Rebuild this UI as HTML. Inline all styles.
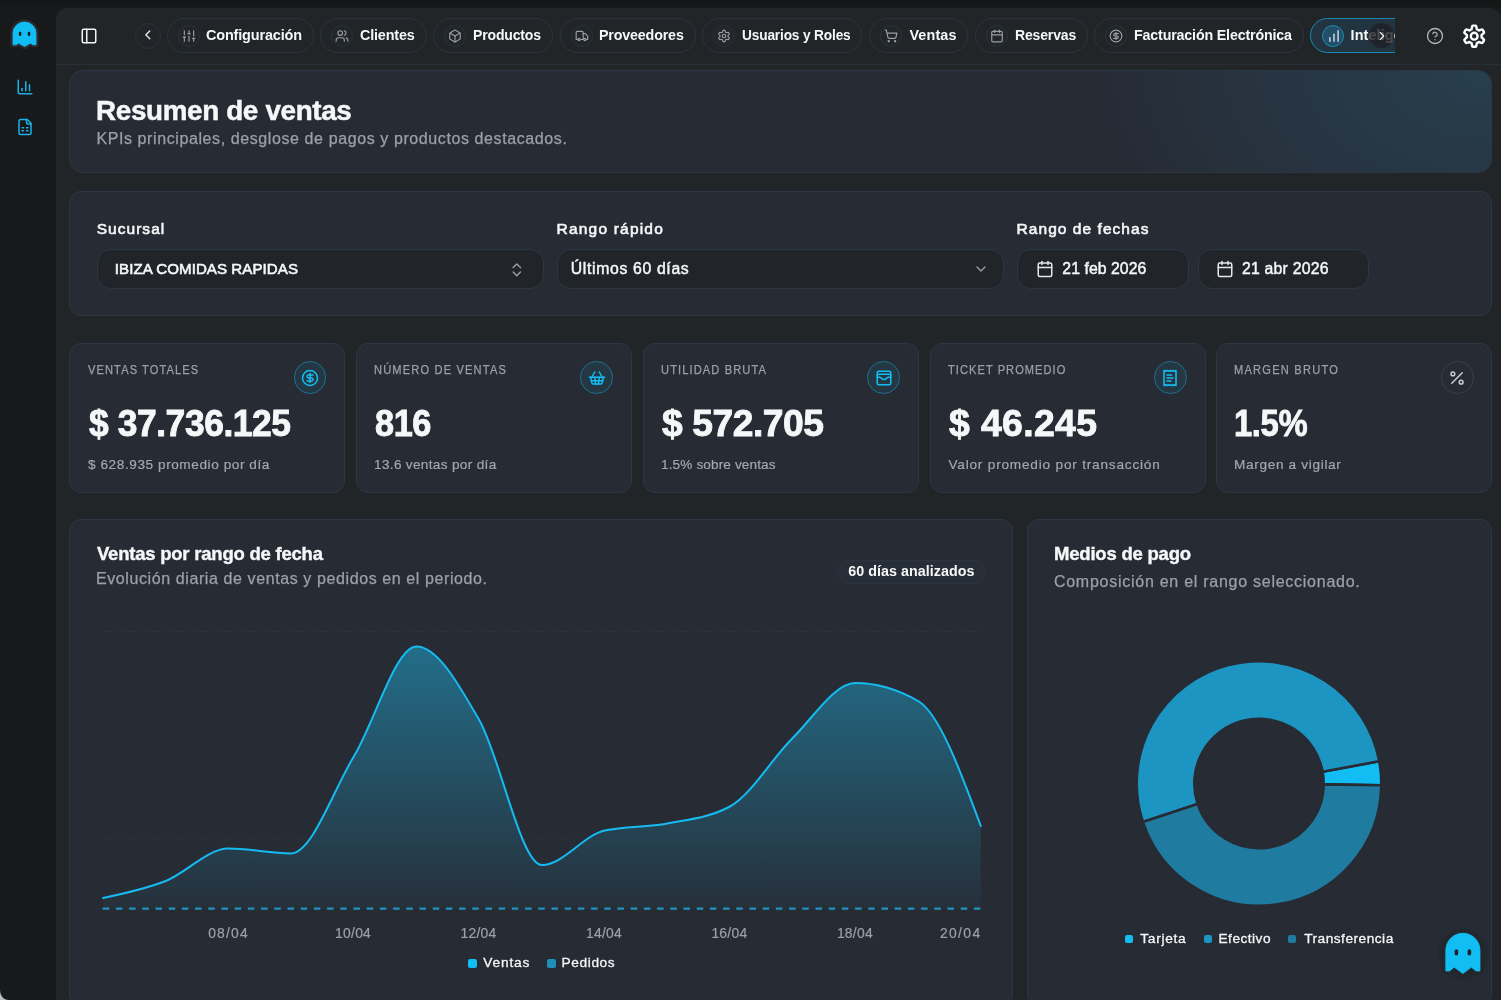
<!DOCTYPE html>
<html lang="es">
<head>
<meta charset="utf-8">
<title>Resumen de ventas</title>
<style>
*{box-sizing:border-box;margin:0;padding:0}
html,body{width:1501px;height:1000px;overflow:hidden;background:#18191b;font-family:"Liberation Sans",sans-serif}
#app{position:relative;width:1501px;height:1000px;overflow:hidden;background:#18191b}
.abs,.t,.card,.pill,.ic,.sel{position:absolute}
.t{white-space:pre;line-height:1;display:block}
#topfade{left:0;top:0;width:1501px;height:8px;background:linear-gradient(#151617,#18191b)}
#main{left:56px;top:8px;width:1445px;height:992px;background:#212528;border-radius:11px 11px 0 0}
#hline{left:56px;top:64px;width:1445px;height:1px;background:#2a2e37}
.card{background:#262b34;border:1px solid #2b3843;border-radius:12px}
#hero{left:69px;top:70px;width:1423px;height:103px;border-radius:14px;background:radial-gradient(ellipse 400px 260px at 100% 0%,#273f4d 0%,#273644 45%,#262b34 100%) #262b34;}
#filters{left:69px;top:191px;width:1423px;height:125px}
.kpi{top:343px;width:276px;height:150px}
#chart{left:69px;top:519px;width:944px;height:486.5px}
#pay{left:1027px;top:519px;width:465px;height:486.5px}
.pill{top:18px;height:35px;border:1px solid #2a333e;border-radius:18px;background:#212528}
.pic{position:absolute;left:10px;top:6px;width:22px;height:22px;border-radius:50%;border:1px solid #2a333e;background:#22252a}
.pic svg{position:absolute;left:2.6px;top:2.7px;width:14px;height:14px}
.sel{top:249px;height:40px;border:1px solid #2b3843;border-radius:14px;background:#212429}
.kic{position:absolute;top:361.1px;width:32.7px;height:32.7px;border-radius:50%;border:1px solid #1f6f8f;background:#243844}
.kic svg{position:absolute;left:6.3px;top:6.7px;width:18px;height:18px}
svg{display:block;overflow:visible}
.ln{fill:none;stroke-linecap:round;stroke-linejoin:round}
</style>
</head>
<body>
<div id="app">
<div class="abs" id="topfade"></div>
<div class="abs" id="main"></div>
<div class="abs" id="hline"></div>

<!-- sidebar -->
<svg class="abs" style="left:0;top:0" width="80" height="80" viewBox="0 0 80 80"><path d="M13.00,44.80 L13.00,33.50 A11.50,11.50 0 0 1 36.00,33.50 L36.00,44.80 L33.00,44.80 L30.40,43.20 L24.50,46.50 L18.60,43.20 L16.00,44.80 Z" fill="#2a2c30" stroke="#2a2c30" stroke-width="5.0" stroke-linejoin="round"/><path d="M13.00,44.80 L13.00,33.50 A11.50,11.50 0 0 1 36.00,33.50 L36.00,44.80 L33.00,44.80 L30.40,43.20 L24.50,46.50 L18.60,43.20 L16.00,44.80 Z" fill="#12bdf4" stroke="#12bdf4" stroke-width="0.8" stroke-linejoin="round"/><rect x="18.85" y="31.75" width="2.50" height="4.30" rx="1.25" fill="#1b1d21"/><rect x="27.75" y="31.75" width="2.50" height="4.30" rx="1.25" fill="#1b1d21"/></svg>
<svg class="abs" style="left:16px;top:78px" width="18" height="18" viewBox="0 0 24 24"><g class="ln" stroke="#19b5ea" stroke-width="2"><path d="M3 3v16a2 2 0 0 0 2 2h16"/><path d="M18 17V9"/><path d="M13 17V5"/><path d="M8 17v-3"/></g></svg>
<svg class="abs" style="left:16px;top:118px" width="18" height="18" viewBox="0 0 24 24"><g class="ln" stroke="#19b5ea" stroke-width="2"><path d="M15 2H6a2 2 0 0 0-2 2v16a2 2 0 0 0 2 2h12a2 2 0 0 0 2-2V7Z"/><path d="M14 2v4a2 2 0 0 0 2 2h4"/><path d="M8 13h2"/><path d="M14 13h2"/><path d="M8 17h2"/><path d="M14 17h2"/></g></svg>

<!-- header -->
<svg class="abs" style="left:79.5px;top:26.5px" width="18" height="18" viewBox="0 0 24 24"><g class="ln" stroke="#f3f4f6" stroke-width="2"><rect x="3" y="3" width="18" height="18" rx="2"/><path d="M9 3v18"/></g></svg>
<div class="abs" style="left:135px;top:23px;width:26px;height:26px;border-radius:50%;border:1px solid #2a333e;background:#212528"></div>
<svg class="abs" style="left:140.3px;top:27.4px" width="15.6" height="15.6" viewBox="0 0 24 24"><path class="ln" stroke="#e6e7ea" stroke-width="2.1" d="m15 18-6-6 6-6"/></svg>

<div class="pill" style="left:167px;width:147px"><div class="pic"><svg viewBox="0 0 24 24"><g class="ln" stroke="#9a9ea6" stroke-width="2"><path d="M4 21v-7"/><path d="M4 10V3"/><path d="M12 21v-9"/><path d="M12 8V3"/><path d="M20 21v-5"/><path d="M20 12V3"/><path d="M2 14h4"/><path d="M10 8h4"/><path d="M18 16h4"/></g></svg></div></div>
<div class="pill" style="left:320px;width:107px"><div class="pic"><svg viewBox="0 0 24 24"><g class="ln" stroke="#9a9ea6" stroke-width="2"><path d="M16 21v-2a4 4 0 0 0-4-4H6a4 4 0 0 0-4 4v2"/><circle cx="9" cy="7" r="4"/><path d="M22 21v-2a4 4 0 0 0-3-3.87"/><path d="M16 3.13a4 4 0 0 1 0 7.75"/></g></svg></div></div>
<div class="pill" style="left:433px;width:120px"><div class="pic"><svg viewBox="0 0 24 24"><g class="ln" stroke="#9a9ea6" stroke-width="2"><path d="M21 8a2 2 0 0 0-1-1.73l-7-4a2 2 0 0 0-2 0l-7 4A2 2 0 0 0 3 8v8a2 2 0 0 0 1 1.73l7 4a2 2 0 0 0 2 0l7-4A2 2 0 0 0 21 16Z"/><path d="m3.3 7 8.7 5 8.7-5"/><path d="M12 22V12"/></g></svg></div></div>
<div class="pill" style="left:560px;width:136px"><div class="pic"><svg viewBox="0 0 24 24"><g class="ln" stroke="#9a9ea6" stroke-width="2"><path d="M14 18V6a2 2 0 0 0-2-2H4a2 2 0 0 0-2 2v11a1 1 0 0 0 1 1h2"/><path d="M15 18H9"/><path d="M19 18h2a1 1 0 0 0 1-1v-3.65a1 1 0 0 0-.22-.624l-3.48-4.35A1 1 0 0 0 17.52 8H14"/><circle cx="17" cy="18" r="2"/><circle cx="7" cy="18" r="2"/></g></svg></div></div>
<div class="pill" style="left:702px;width:160px"><div class="pic"><svg viewBox="0 0 24 24"><g class="ln" stroke="#9a9ea6" stroke-width="2"><path d="M12.22 2h-.44a2 2 0 0 0-2 2v.18a2 2 0 0 1-1 1.73l-.43.25a2 2 0 0 1-2 0l-.15-.08a2 2 0 0 0-2.73.73l-.22.38a2 2 0 0 0 .73 2.73l.15.1a2 2 0 0 1 1 1.72v.51a2 2 0 0 1-1 1.74l-.15.09a2 2 0 0 0-.73 2.73l.22.38a2 2 0 0 0 2.73.73l.15-.08a2 2 0 0 1 2 0l.43.25a2 2 0 0 1 1 1.73V20a2 2 0 0 0 2 2h.44a2 2 0 0 0 2-2v-.18a2 2 0 0 1 1-1.73l.43-.25a2 2 0 0 1 2 0l.15.08a2 2 0 0 0 2.73-.73l.22-.39a2 2 0 0 0-.73-2.73l-.15-.08a2 2 0 0 1-1-1.74v-.5a2 2 0 0 1 1-1.74l.15-.09a2 2 0 0 0 .73-2.73l-.22-.38a2 2 0 0 0-2.73-.73l-.15.08a2 2 0 0 1-2 0l-.43-.25a2 2 0 0 1-1-1.73V4a2 2 0 0 0-2-2z"/><circle cx="12" cy="12" r="3"/></g></svg></div></div>
<div class="pill" style="left:869px;width:99px"><div class="pic"><svg viewBox="0 0 24 24"><g class="ln" stroke="#9a9ea6" stroke-width="2"><circle cx="8" cy="21" r="1"/><circle cx="19" cy="21" r="1"/><path d="M2.05 2.05h2l2.66 12.42a2 2 0 0 0 2 1.58h9.78a2 2 0 0 0 1.95-1.57l1.65-7.43H5.12"/></g></svg></div></div>
<div class="pill" style="left:975px;width:113px"><div class="pic"><svg viewBox="0 0 24 24"><g class="ln" stroke="#9a9ea6" stroke-width="2"><path d="M8 2v4"/><path d="M16 2v4"/><rect x="3" y="4" width="18" height="18" rx="2"/><path d="M3 10h18"/></g></svg></div></div>
<div class="pill" style="left:1094px;width:210px"><div class="pic"><svg viewBox="0 0 24 24"><g class="ln" stroke="#9a9ea6" stroke-width="2"><circle cx="12" cy="12" r="10"/><path d="M16 8h-6a2 2 0 1 0 0 4h4a2 2 0 1 1 0 4H8"/><path d="M12 18V6"/></g></svg></div></div>

<!-- active pill -->
<div class="abs" style="left:1310px;top:18px;width:85px;height:35px;overflow:hidden">
  <div style="position:absolute;left:0;top:0;width:220px;height:35px;border:1.6px solid #1a88b2;border-radius:18px;background:#22343f"></div>
  <div style="position:absolute;left:12px;top:6.6px;width:22px;height:22px;border-radius:50%;border:1.4px solid #1c8ab3;background:#234f68"></div>
  <svg style="position:absolute;left:16.7px;top:10.8px" width="14" height="14" viewBox="0 0 24 24"><g class="ln" stroke="#e4eef3" stroke-width="2.2"><path d="M5 21v-6"/><path d="M12 21V9"/><path d="M19 21V3"/></g></svg>
  <span class="t" style="left:40.6px;top:10px;font-size:14.4px;font-weight:700;color:#f6f7f9;letter-spacing:0.1px">Inteligencia</span>
  <div style="position:absolute;left:59.3px;top:5.4px;width:24.8px;height:24.8px;border-radius:50%;background:rgba(30,32,36,.8)"></div>
  <svg style="position:absolute;left:64.7px;top:10.7px" width="14" height="14" viewBox="0 0 24 24"><path class="ln" stroke="#f3f4f6" stroke-width="1.9" d="m9 18 6-6-6-6"/></svg>
</div>

<svg class="abs" style="left:1426px;top:27px" width="18" height="18" viewBox="0 0 24 24"><g class="ln" stroke="#b4b7bd" stroke-width="1.7"><circle cx="12" cy="12" r="10"/><path d="M9.09 9a3 3 0 0 1 5.83 1c0 2-3 3-3 3"/><path d="M12 17h.01"/></g></svg>
<svg class="abs" style="left:0;top:0" width="1501" height="80" viewBox="0 0 1501 80"><path d="M1481.60 36.20 L1481.57 35.56 L1481.57 34.90 L1482.89 33.87 L1484.09 32.60 L1483.81 31.72 L1483.38 30.90 L1482.88 30.12 L1482.26 29.44 L1480.56 29.84 L1479.01 30.47 L1478.44 30.14 L1477.90 29.79 L1477.33 29.49 L1476.76 29.17 L1476.53 27.51 L1476.03 25.84 L1475.12 25.64 L1474.20 25.60 L1473.28 25.64 L1472.37 25.84 L1471.87 27.51 L1471.64 29.17 L1471.07 29.49 L1470.50 29.79 L1469.96 30.14 L1469.39 30.47 L1467.84 29.84 L1466.14 29.44 L1465.52 30.12 L1465.02 30.90 L1464.59 31.72 L1464.31 32.60 L1465.51 33.87 L1466.83 34.90 L1466.83 35.56 L1466.80 36.20 L1466.83 36.84 L1466.83 37.50 L1465.51 38.53 L1464.31 39.80 L1464.59 40.68 L1465.02 41.50 L1465.52 42.28 L1466.14 42.96 L1467.84 42.56 L1469.39 41.93 L1469.96 42.26 L1470.50 42.61 L1471.07 42.91 L1471.64 43.23 L1471.87 44.89 L1472.37 46.56 L1473.28 46.76 L1474.20 46.80 L1475.12 46.76 L1476.03 46.56 L1476.53 44.89 L1476.76 43.23 L1477.33 42.91 L1477.90 42.61 L1478.44 42.26 L1479.01 41.93 L1480.56 42.56 L1482.26 42.96 L1482.88 42.28 L1483.38 41.50 L1483.81 40.68 L1484.09 39.80 L1482.89 38.53 L1481.57 37.50 L1481.57 36.84 L1481.60 36.20Z" fill="none" stroke="#fff" stroke-width="2.4" stroke-linejoin="round"/><circle cx="1474.2" cy="36.2" r="3.4" fill="none" stroke="#fff" stroke-width="2.4"/></svg>

<!-- cards -->
<div class="card" id="hero"></div>
<div class="card" id="filters"></div>
<div class="sel" style="left:97px;width:447px"></div>
<div class="sel" style="left:557px;width:447px"></div>
<div class="sel" style="left:1017px;width:172px"></div>
<div class="sel" style="left:1198px;width:171px"></div>
<svg class="abs" style="left:508.2px;top:261.1px" width="17.6" height="17.6" viewBox="0 0 24 24"><g class="ln" stroke="#9a9ea6" stroke-width="2"><path d="m7 15 5 5 5-5"/><path d="m7 9 5-5 5 5"/></g></svg>
<svg class="abs" style="left:973px;top:261px" width="16" height="16" viewBox="0 0 24 24"><path class="ln" stroke="#9a9ea6" stroke-width="2" d="m6 9 6 6 6-6"/></svg>
<svg class="abs" style="left:1036px;top:260px" width="18" height="18" viewBox="0 0 24 24"><g class="ln" stroke="#e6e7ea" stroke-width="2"><path d="M8 2v4"/><path d="M16 2v4"/><rect x="3" y="4" width="18" height="18" rx="2"/><path d="M3 10h18"/></g></svg>
<svg class="abs" style="left:1216px;top:260px" width="18" height="18" viewBox="0 0 24 24"><g class="ln" stroke="#e6e7ea" stroke-width="2"><path d="M8 2v4"/><path d="M16 2v4"/><rect x="3" y="4" width="18" height="18" rx="2"/><path d="M3 10h18"/></g></svg>

<div class="card kpi" style="left:69px;width:276px"></div>
<div class="kic" style="left:293.8px"><svg viewBox="0 0 24 24"><g class="ln" stroke="#14bdf3" stroke-width="2"><circle cx="12" cy="12" r="10"/><path d="M16 8h-6a2 2 0 1 0 0 4h4a2 2 0 1 1 0 4H8"/><path d="M12 18V6"/></g></svg></div>
<div class="card kpi" style="left:356px;width:276px"></div>
<div class="kic" style="left:580.3px"><svg viewBox="0 0 24 24"><g class="ln" stroke="#14bdf3" stroke-width="2"><path d="m15 11-1 9"/><path d="m19 11-4-7"/><path d="M2 11h20"/><path d="m3.5 11 1.6 7.4a2 2 0 0 0 2 1.6h9.8a2 2 0 0 0 2-1.6l1.7-7.4"/><path d="M4.5 15.5h15"/><path d="m5 11 4-7"/><path d="m9 11 1 9"/></g></svg></div>
<div class="card kpi" style="left:643px;width:276px"></div>
<div class="kic" style="left:867.3px"><svg viewBox="0 0 24 24"><g class="ln" stroke="#14bdf3" stroke-width="2"><rect width="18" height="18" x="3" y="3" rx="2"/><path d="M3 9a2 2 0 0 1 2-2h14a2 2 0 0 1 2 2"/><path d="M3 11h3c.8 0 1.6.3 2.1.9l1.1.9c1.6 1.6 4.1 1.6 5.7 0l1.1-.9c.5-.5 1.3-.9 2.1-.9H21"/></g></svg></div>
<div class="card kpi" style="left:930px;width:275.5px"></div>
<div class="kic" style="left:1154.1px"><svg viewBox="0 0 24 24"><g class="ln" stroke="#14bdf3" stroke-width="2"><path d="M4 2v20l2-1 2 1 2-1 2 1 2-1 2 1 2-1 2 1V2l-2 1-2-1-2 1-2-1-2 1-2-1-2 1Z"/><path d="M14 8H8"/><path d="M16 12H8"/><path d="M13 16H8"/></g></svg></div>
<div class="card kpi" style="left:1216px;width:276px"></div>
<div class="kic" style="left:1441.0px;border-color:#3a4049;background:#262b34"><svg viewBox="0 0 24 24"><g class="ln" stroke="#c9ccd1" stroke-width="2"><line x1="19" x2="5" y1="5" y2="19"/><circle cx="6.5" cy="6.5" r="2.5"/><circle cx="17.5" cy="17.5" r="2.5"/></g></svg></div>

<div class="card" id="chart"></div>
<div class="card" id="pay"></div>
<div class="abs" style="left:836.5px;top:560px;width:149.5px;height:23.5px;border-radius:12px;border:1px solid #2b343f;background:#282e38"></div>

<svg class="abs" style="left:0;top:0" width="1501" height="1000" viewBox="0 0 1501 1000"><defs><linearGradient id="ag" gradientUnits="userSpaceOnUse" x1="0" y1="646.4" x2="0" y2="908.7"><stop offset="0" stop-color="#1fb9ea" stop-opacity="0.47"/><stop offset="1" stop-color="#1fb9ea" stop-opacity="0.035"/></linearGradient></defs><line x1="103" x2="981" y1="631.5" y2="631.5" stroke="#2e343d" stroke-width="1" stroke-dasharray="3 3"/><line x1="103" x2="981" y1="839.7" y2="839.7" stroke="#2e343d" stroke-width="1" stroke-dasharray="3 3"/><path d="M103.00,898.00C123.90,893.62,144.80,889.23,165.70,881.00C186.60,872.77,207.50,848.60,228.40,848.60C249.30,848.60,270.20,853.40,291.10,853.40C312.00,853.40,332.90,791.00,353.80,756.50C374.70,722.00,395.60,646.40,416.50,646.40C437.40,646.40,458.30,683.57,479.20,720.00C500.10,756.43,521.00,865.00,541.90,865.00C562.80,865.00,583.70,835.17,604.60,830.50C625.50,825.83,646.40,827.50,667.30,823.50C688.20,819.50,709.10,817.83,730.00,806.50C750.90,795.17,771.80,758.58,792.70,738.00C813.60,717.42,834.50,683.00,855.40,683.00C876.30,683.00,897.20,689.00,918.10,701.00C939.00,713.00,959.90,769.50,980.80,826.00L980.80,908.70 L103.00,908.70 Z" fill="#262b34"/><path d="M103.00,898.00C123.90,893.62,144.80,889.23,165.70,881.00C186.60,872.77,207.50,848.60,228.40,848.60C249.30,848.60,270.20,853.40,291.10,853.40C312.00,853.40,332.90,791.00,353.80,756.50C374.70,722.00,395.60,646.40,416.50,646.40C437.40,646.40,458.30,683.57,479.20,720.00C500.10,756.43,521.00,865.00,541.90,865.00C562.80,865.00,583.70,835.17,604.60,830.50C625.50,825.83,646.40,827.50,667.30,823.50C688.20,819.50,709.10,817.83,730.00,806.50C750.90,795.17,771.80,758.58,792.70,738.00C813.60,717.42,834.50,683.00,855.40,683.00C876.30,683.00,897.20,689.00,918.10,701.00C939.00,713.00,959.90,769.50,980.80,826.00L980.80,908.70 L103.00,908.70 Z" fill="url(#ag)"/><path d="M103.00,898.00C123.90,893.62,144.80,889.23,165.70,881.00C186.60,872.77,207.50,848.60,228.40,848.60C249.30,848.60,270.20,853.40,291.10,853.40C312.00,853.40,332.90,791.00,353.80,756.50C374.70,722.00,395.60,646.40,416.50,646.40C437.40,646.40,458.30,683.57,479.20,720.00C500.10,756.43,521.00,865.00,541.90,865.00C562.80,865.00,583.70,835.17,604.60,830.50C625.50,825.83,646.40,827.50,667.30,823.50C688.20,819.50,709.10,817.83,730.00,806.50C750.90,795.17,771.80,758.58,792.70,738.00C813.60,717.42,834.50,683.00,855.40,683.00C876.30,683.00,897.20,689.00,918.10,701.00C939.00,713.00,959.90,769.50,980.80,826.00" fill="none" stroke="#15bbf2" stroke-width="2" stroke-linejoin="round" stroke-linecap="round"/><line x1="102.7" x2="981" y1="908.7" y2="908.7" stroke="#2092be" stroke-width="2.3" stroke-dasharray="6.5 6.7"/><path d="M1381.29,785.21 A122.3,122.3 0 0 0 1379.25,761.21 L1322.62,771.71 A64.7,64.7 0 0 1 1323.69,784.40 Z" fill="#12bdf4" stroke="#262b34" stroke-width="2.6" stroke-linejoin="round"/><path d="M1379.25,761.21 A122.3,122.3 0 1 0 1142.95,822.10 L1197.61,803.92 A64.7,64.7 0 1 1 1322.62,771.71 Z" fill="#1c95c3" stroke="#262b34" stroke-width="2.6" stroke-linejoin="round"/><path d="M1142.95,822.10 A122.3,122.3 0 0 0 1381.29,785.21 L1323.69,784.40 A64.7,64.7 0 0 1 1197.61,803.92 Z" fill="#1f7ca0" stroke="#262b34" stroke-width="2.6" stroke-linejoin="round"/></svg>

<!-- legend squares -->
<div class="abs" style="left:468.3px;top:959.3px;width:8.4px;height:8.4px;border-radius:2px;background:#12bdf4"></div>
<div class="abs" style="left:547.3px;top:959.3px;width:8.4px;height:8.4px;border-radius:2px;background:#1f8fba"></div>
<div class="abs" style="left:1125px;top:934.8px;width:8.2px;height:8.2px;border-radius:2px;background:#12bdf4"></div>
<div class="abs" style="left:1204.3px;top:934.8px;width:8.2px;height:8.2px;border-radius:2px;background:#1c95c3"></div>
<div class="abs" style="left:1288px;top:934.8px;width:8.2px;height:8.2px;border-radius:2px;background:#1f7ca0"></div>

<span class="t" style="left:206.23px;top:28.00px;color:#f6f7f9;font-size:14.4px;font-weight:700;letter-spacing:-0.173px;transform:scaleX(1.0059);transform-origin:0 0;">Configuración</span>
<span class="t" style="left:360.33px;top:28.00px;color:#f6f7f9;font-size:14.4px;font-weight:700;letter-spacing:-0.173px;transform:scaleX(0.9997);transform-origin:0 0;">Clientes</span>
<span class="t" style="left:473.40px;top:28.00px;color:#f6f7f9;font-size:14.4px;font-weight:700;letter-spacing:-0.173px;transform:scaleX(0.9758);transform-origin:0 0;">Productos</span>
<span class="t" style="left:599.40px;top:28.00px;color:#f6f7f9;font-size:14.4px;font-weight:700;letter-spacing:-0.173px;transform:scaleX(0.9926);transform-origin:0 0;">Proveedores</span>
<span class="t" style="left:741.73px;top:28.00px;color:#f6f7f9;font-size:14.4px;font-weight:700;letter-spacing:-0.173px;transform:scaleX(0.9523);transform-origin:0 0;">Usuarios y Roles</span>
<span class="t" style="left:909.40px;top:28.00px;color:#f6f7f9;font-size:14.4px;font-weight:700;letter-spacing:0.132px;">Ventas</span>
<span class="t" style="left:1014.60px;top:28.00px;color:#f6f7f9;font-size:14.4px;font-weight:700;letter-spacing:-0.173px;transform:scaleX(0.9750);transform-origin:0 0;">Reservas</span>
<span class="t" style="left:1134.00px;top:28.00px;color:#f6f7f9;font-size:14.4px;font-weight:700;letter-spacing:-0.173px;transform:scaleX(0.9915);transform-origin:0 0;">Facturación Electrónica</span>
<span class="t" style="left:95.53px;top:97.00px;color:#f6f7f9;font-size:27.7px;font-weight:700;letter-spacing:-0.332px;transform:scaleX(1.0042);transform-origin:0 0;-webkit-text-stroke:0.5px;">Resumen de ventas</span>
<span class="t" style="left:96.40px;top:131.00px;color:#9ca0a8;font-size:16.0px;font-weight:400;letter-spacing:0.597px;-webkit-text-stroke:0.25px;">KPIs principales, desglose de pagos y productos destacados.</span>
<span class="t" style="left:96.67px;top:221.00px;color:#f6f7f9;font-size:15.5px;font-weight:400;letter-spacing:1.041px;-webkit-text-stroke:0.6px;">Sucursal</span>
<span class="t" style="left:556.60px;top:221.00px;color:#f6f7f9;font-size:15.5px;font-weight:400;letter-spacing:1.193px;-webkit-text-stroke:0.6px;">Rango rápido</span>
<span class="t" style="left:1016.60px;top:221.00px;color:#f6f7f9;font-size:15.5px;font-weight:400;letter-spacing:1.047px;-webkit-text-stroke:0.6px;">Rango de fechas</span>
<span class="t" style="left:114.80px;top:261.00px;color:#f6f7f9;font-size:15.1px;font-weight:400;letter-spacing:0.059px;-webkit-text-stroke:0.6px;">IBIZA COMIDAS RAPIDAS</span>
<span class="t" style="left:570.70px;top:261.00px;color:#f6f7f9;font-size:15.8px;font-weight:400;letter-spacing:0.657px;-webkit-text-stroke:0.45px;">Últimos 60 días</span>
<span class="t" style="left:1062.33px;top:261.00px;color:#f6f7f9;font-size:15.8px;font-weight:400;letter-spacing:0.055px;-webkit-text-stroke:0.45px;">21 feb 2026</span>
<span class="t" style="left:1241.93px;top:261.00px;color:#f6f7f9;font-size:15.8px;font-weight:400;letter-spacing:0.227px;-webkit-text-stroke:0.45px;">21 abr 2026</span>
<span class="t" style="left:87.80px;top:364.00px;color:#9ca0a8;font-size:12.9px;font-weight:400;letter-spacing:1.279px;transform:scaleX(0.8600);transform-origin:0 0;-webkit-text-stroke:0.25px;">VENTAS TOTALES</span>
<span class="t" style="left:88.80px;top:405.00px;color:#f6f7f9;font-size:37.4px;font-weight:700;letter-spacing:-0.449px;transform:scaleX(0.9469);transform-origin:0 0;-webkit-text-stroke:0.9px;">$ 37.736.125</span>
<span class="t" style="left:88.00px;top:458.00px;color:#a3a7ae;font-size:13.6px;font-weight:400;letter-spacing:0.575px;-webkit-text-stroke:0.2px;">$ 628.935 promedio por día</span>
<span class="t" style="left:373.93px;top:364.00px;color:#9ca0a8;font-size:12.9px;font-weight:400;letter-spacing:1.357px;transform:scaleX(0.8600);transform-origin:0 0;-webkit-text-stroke:0.25px;">NÚMERO DE VENTAS</span>
<span class="t" style="left:375.33px;top:405.00px;color:#f6f7f9;font-size:37.4px;font-weight:700;letter-spacing:-0.449px;transform:scaleX(0.9166);transform-origin:0 0;-webkit-text-stroke:0.9px;">816</span>
<span class="t" style="left:374.00px;top:458.00px;color:#a3a7ae;font-size:13.6px;font-weight:400;letter-spacing:0.326px;-webkit-text-stroke:0.2px;">13.6 ventas por día</span>
<span class="t" style="left:660.93px;top:364.00px;color:#9ca0a8;font-size:12.9px;font-weight:400;letter-spacing:1.305px;transform:scaleX(0.8600);transform-origin:0 0;-webkit-text-stroke:0.25px;">UTILIDAD BRUTA</span>
<span class="t" style="left:662.40px;top:405.00px;color:#f6f7f9;font-size:37.4px;font-weight:700;letter-spacing:-0.449px;transform:scaleX(0.9958);transform-origin:0 0;-webkit-text-stroke:0.9px;">$ 572.705</span>
<span class="t" style="left:661.00px;top:458.00px;color:#a3a7ae;font-size:13.6px;font-weight:400;letter-spacing:0.125px;-webkit-text-stroke:0.2px;">1.5% sobre ventas</span>
<span class="t" style="left:948.40px;top:364.00px;color:#9ca0a8;font-size:12.9px;font-weight:400;letter-spacing:1.219px;transform:scaleX(0.8600);transform-origin:0 0;-webkit-text-stroke:0.25px;">TICKET PROMEDIO</span>
<span class="t" style="left:949.00px;top:405.00px;color:#f6f7f9;font-size:37.4px;font-weight:700;letter-spacing:0.360px;-webkit-text-stroke:0.9px;">$ 46.245</span>
<span class="t" style="left:948.40px;top:458.00px;color:#a3a7ae;font-size:13.6px;font-weight:400;letter-spacing:0.811px;-webkit-text-stroke:0.2px;">Valor promedio por transacción</span>
<span class="t" style="left:1234.13px;top:364.00px;color:#9ca0a8;font-size:12.9px;font-weight:400;letter-spacing:1.430px;transform:scaleX(0.8600);transform-origin:0 0;-webkit-text-stroke:0.25px;">MARGEN BRUTO</span>
<span class="t" style="left:1233.93px;top:405.00px;color:#f6f7f9;font-size:37.4px;font-weight:700;letter-spacing:-0.449px;transform:scaleX(0.8781);transform-origin:0 0;-webkit-text-stroke:0.9px;">1.5%</span>
<span class="t" style="left:1234.00px;top:458.00px;color:#a3a7ae;font-size:13.6px;font-weight:400;letter-spacing:0.677px;-webkit-text-stroke:0.2px;">Margen a vigilar</span>
<span class="t" style="left:96.90px;top:545.00px;color:#f6f7f9;font-size:18.6px;font-weight:700;letter-spacing:-0.223px;transform:scaleX(0.9947);transform-origin:0 0;-webkit-text-stroke:0.4px;">Ventas por rango de fecha</span>
<span class="t" style="left:95.90px;top:571.00px;color:#9ca0a8;font-size:16.0px;font-weight:400;letter-spacing:0.601px;-webkit-text-stroke:0.25px;">Evolución diaria de ventas y pedidos en el periodo.</span>
<span class="t" style="left:848.37px;top:564.00px;color:#f6f7f9;font-size:14.3px;font-weight:700;letter-spacing:0.034px;">60 días analizados</span>
<span class="t" style="left:1053.60px;top:545.00px;color:#f6f7f9;font-size:18.6px;font-weight:700;letter-spacing:-0.223px;transform:scaleX(0.9963);transform-origin:0 0;-webkit-text-stroke:0.4px;">Medios de pago</span>
<span class="t" style="left:1053.93px;top:574.00px;color:#9ca0a8;font-size:16.0px;font-weight:400;letter-spacing:0.737px;-webkit-text-stroke:0.25px;">Composición en el rango seleccionado.</span>
<span class="t" style="left:208.22px;top:927.00px;color:#9ca0a8;font-size:13.9px;font-weight:400;letter-spacing:1.175px;-webkit-text-stroke:0.2px;">08/04</span>
<span class="t" style="left:335.10px;top:927.00px;color:#9ca0a8;font-size:13.9px;font-weight:400;letter-spacing:0.242px;-webkit-text-stroke:0.2px;">10/04</span>
<span class="t" style="left:460.50px;top:927.00px;color:#9ca0a8;font-size:13.9px;font-weight:400;letter-spacing:0.242px;-webkit-text-stroke:0.2px;">12/04</span>
<span class="t" style="left:586.00px;top:927.00px;color:#9ca0a8;font-size:13.9px;font-weight:400;letter-spacing:0.242px;-webkit-text-stroke:0.2px;">14/04</span>
<span class="t" style="left:711.40px;top:927.00px;color:#9ca0a8;font-size:13.9px;font-weight:400;letter-spacing:0.242px;-webkit-text-stroke:0.2px;">16/04</span>
<span class="t" style="left:836.90px;top:927.00px;color:#9ca0a8;font-size:13.9px;font-weight:400;letter-spacing:0.242px;-webkit-text-stroke:0.2px;">18/04</span>
<span class="t" style="left:939.93px;top:927.00px;color:#9ca0a8;font-size:13.9px;font-weight:400;letter-spacing:1.375px;-webkit-text-stroke:0.2px;">20/04</span>
<span class="t" style="left:483.20px;top:956.00px;color:#f6f7f9;font-size:13.7px;font-weight:400;letter-spacing:0.868px;-webkit-text-stroke:0.3px;">Ventas</span>
<span class="t" style="left:561.60px;top:956.00px;color:#f6f7f9;font-size:13.7px;font-weight:400;letter-spacing:0.600px;-webkit-text-stroke:0.3px;">Pedidos</span>
<span class="t" style="left:1140.30px;top:932.00px;color:#f6f7f9;font-size:13.7px;font-weight:400;letter-spacing:0.718px;-webkit-text-stroke:0.3px;">Tarjeta</span>
<span class="t" style="left:1218.50px;top:932.00px;color:#f6f7f9;font-size:13.7px;font-weight:400;letter-spacing:0.481px;-webkit-text-stroke:0.3px;">Efectivo</span>
<span class="t" style="left:1304.20px;top:932.00px;color:#f6f7f9;font-size:13.7px;font-weight:400;letter-spacing:0.490px;-webkit-text-stroke:0.3px;">Transferencia</span>

<!-- floating ghost -->
<div class="abs" style="left:1437px;top:928px;width:52px;height:52px;border-radius:50%;background:radial-gradient(circle,rgba(30,33,38,.55) 0%,rgba(30,33,38,.35) 60%,rgba(30,33,38,0) 100%)"></div>
<svg class="abs" style="left:0;top:0" width="1501" height="1000" viewBox="0 0 1501 1000"><path d="M1445.80,971.00 L1445.80,950.30 A17.10,17.10 0 0 1 1480.00,950.30 L1480.00,971.00 L1476.00,971.00 L1471.40,967.20 L1462.90,973.50 L1454.20,967.20 L1449.60,971.00 Z" fill="#23262b" stroke="#23262b" stroke-width="6.8" stroke-linejoin="round"/><path d="M1445.80,971.00 L1445.80,950.30 A17.10,17.10 0 0 1 1480.00,950.30 L1480.00,971.00 L1476.00,971.00 L1471.40,967.20 L1462.90,973.50 L1454.20,967.20 L1449.60,971.00 Z" fill="#12bdf4" stroke="#12bdf4" stroke-width="0.8" stroke-linejoin="round"/><rect x="1454.60" y="949.20" width="3.60" height="6.40" rx="1.80" fill="#1f2228"/><rect x="1467.60" y="949.20" width="3.60" height="6.40" rx="1.80" fill="#1f2228"/></svg>

<!-- window corner -->
<div class="abs" style="left:0;top:990px;width:8px;height:10px;background:radial-gradient(ellipse 8px 10px at 100% 0%,rgba(185,190,198,0) 0,rgba(185,190,198,0) 93%,#b9bec6 105%)"></div>
</div>
</body>
</html>
